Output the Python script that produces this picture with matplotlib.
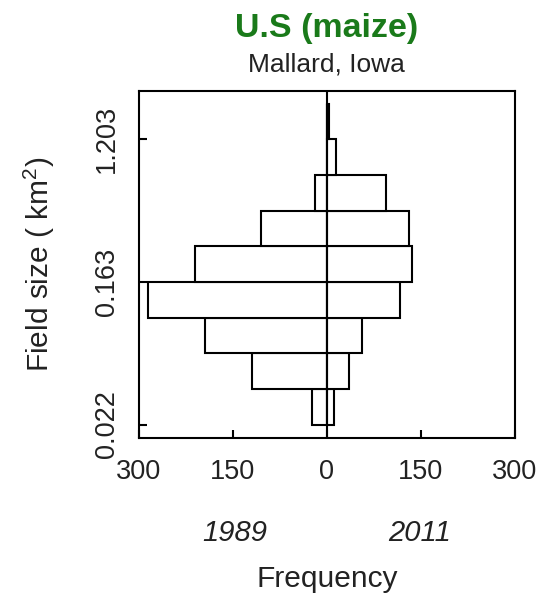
import numpy as np
import matplotlib
matplotlib.use("Agg")
import matplotlib.pyplot as plt

plt.rcParams['font.family'] = ['Liberation Sans', 'DejaVu Sans']
plt.rcParams['mathtext.fontset'] = 'custom'
plt.rcParams['mathtext.rm'] = 'Liberation Sans'
plt.rcParams['mathtext.it'] = 'Liberation Sans:italic'

# ln(field size) bin edges (lower edges), step 0.5
bin_lower = [-3.8167, -3.3167, -2.8167, -2.3167, -1.8167, -1.3167, -0.8167, -0.3167, 0.1833]
bin_height = 0.5
freq_1989 = [23, 120, 195, 285, 210, 105, 18, 0, 0]
freq_2011 = [12, 35, 56, 117, 136, 132, 94, 15, 3]
ytick_vals = [0.022, 0.163, 1.203]
ytick_labels = ["0.022", "0.163", "1.203"]
xtick_vals = [-300, -150, 0, 150, 300]
xtick_labels = ["300", "150", "0", "150", "300"]

fig = plt.figure(figsize=(5.44, 6.01), dpi=100)
ax = fig.add_axes([0.2555, 0.2707, 0.6903, 0.5783])

lw = 1.5
ax.barh(bin_lower, [-v for v in freq_1989], height=bin_height, align='edge',
        facecolor='white', edgecolor='black', linewidth=lw)
ax.barh(bin_lower, freq_2011, height=bin_height, align='edge',
        facecolor='white', edgecolor='black', linewidth=lw)
ax.axvline(0, color='black', linewidth=lw)

ax.set_xlim(-300, 300)
ax.set_ylim(-4.01, 0.867)
ax.set_xticks(xtick_vals)
ax.set_xticklabels(xtick_labels, fontsize=19.5, color='#222222')
ax.set_yticks(np.log(ytick_vals))
ax.set_yticklabels(ytick_labels, fontsize=19.5, rotation=90, va='center', color='#222222')
ax.tick_params(direction='in', length=6, width=1.5)
ax.tick_params(axis='x', pad=15)
ax.tick_params(axis='y', pad=14)
for s in ax.spines.values():
    s.set_linewidth(1.5)

ax.set_ylabel("Field size ( km$^2$)", fontsize=21.5, color='#222222', va='center')
ax.yaxis.set_label_coords(-0.266, 0.5)

fig.text(0.600, 0.953, "U.S (maize)", ha='center', va='center', fontsize=24.5,
         fontweight='bold', color='#1a7a1a')
fig.text(0.600, 0.8935, "Mallard, Iowa", ha='center', va='center', fontsize=19,
         color='#222222')
fig.text(0.431, 0.113, "1989", ha='center', va='center', fontsize=21,
         style='italic', color='#222222')
fig.text(0.771, 0.113, "2011", ha='center', va='center', fontsize=21,
         style='italic', color='#222222')
fig.text(0.601, 0.036, "Frequency", ha='center', va='center', fontsize=21.5,
         color='#222222')

fig.savefig("out.png", dpi=100)
